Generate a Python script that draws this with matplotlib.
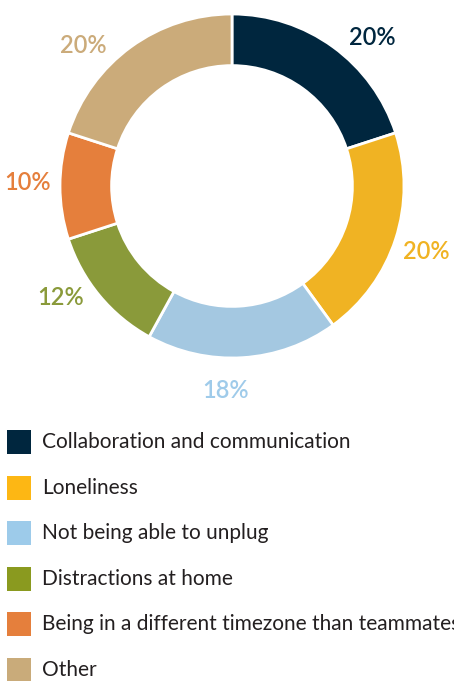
import matplotlib
matplotlib.use("Agg")
import matplotlib.pyplot as plt
from matplotlib.patches import Rectangle
import numpy as np

categories = ["Collaboration and communication", "Loneliness", "Not being able to unplug",
              "Distractions at home", "Being in a different timezone than teammates", "Other"]
values = [20, 20, 18, 12, 10, 20]
pct_labels = ["20%", "20%", "18%", "12%", "10%", "20%"]

colors = ["#00263e", "#f0b323", "#a4c8e1", "#8a9a3a", "#e57f3c", "#cbab7a"]
label_colors = ["#00263e", "#f0b323", "#9fcbea", "#8a9a3a", "#e57f3c", "#cbab7a"]
legend_colors = ["#00263e", "#fdb714", "#9dcbea", "#8a9a1f", "#e57f3c", "#c9ab7a"]
label_angle_shift = [-7.4, -0.6, -5.3, -6.6, -1.0, 10.6]
label_radius = 1.19

plt.rcParams['font.family'] = ['Lato', 'DejaVu Sans']

fig = plt.figure(figsize=(4.54, 6.81), dpi=100)
ax = fig.add_axes([60/454, 1 - 358/681, 344/454, 344/681])
wedges, _ = ax.pie(values, colors=colors, startangle=90, counterclock=False,
                   wedgeprops=dict(width=0.3, edgecolor="white", linewidth=2), radius=1)
ax.set_xlim(-1, 1); ax.set_ylim(-1, 1)
ax.set_aspect("equal")
ax.axis("off")

for w, lab, col, sh in zip(wedges, pct_labels, label_colors, label_angle_shift):
    ang = np.deg2rad((w.theta1 + w.theta2) / 2 + sh)
    ax.text(label_radius * np.cos(ang), label_radius * np.sin(ang), lab, color=col,
            ha="center", va="center", fontsize=17, fontweight="semibold", clip_on=False)

# legend
lax = fig.add_axes([0, 0, 1, 1 - 410/681])
lax.set_xlim(0, 454); lax.set_ylim(271, 0)
lax.axis("off")
row0, step = 32, 45.6
for i, (cat, col) in enumerate(zip(categories, legend_colors)):
    yc = row0 + i * step
    lax.add_patch(Rectangle((7, yc - 12), 24, 24, color=col, lw=0))
    lax.text(42, yc, cat, ha="left", va="center", fontsize=15, color="#231f20", clip_on=False)

fig.savefig("out.png", dpi=100)
